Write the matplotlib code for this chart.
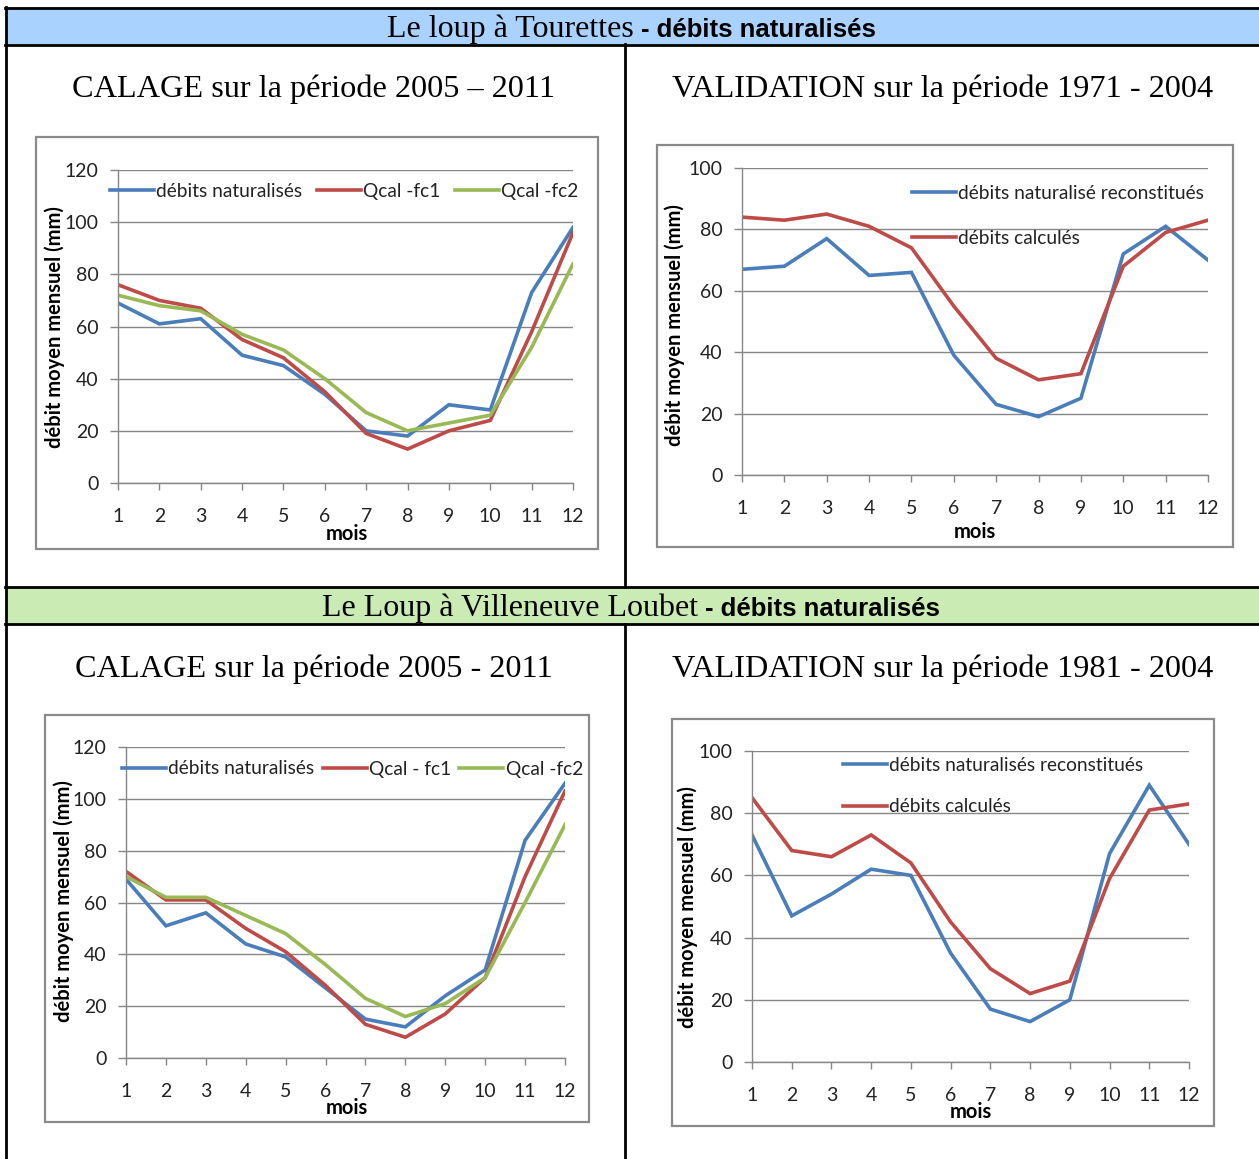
import matplotlib
matplotlib.use("Agg")
import matplotlib.pyplot as plt
from matplotlib.patches import Rectangle
from matplotlib.lines import Line2D

# ---------------- data ----------------
months = list(range(1, 13))

tour_cal_nat = [69, 61, 63, 49, 45, 34, 20, 18, 30, 28, 73, 98]
tour_cal_fc1 = [76, 70, 67, 55, 48, 35, 19, 13, 20, 24, 58, 96]
tour_cal_fc2 = [72, 68, 66, 57, 51, 40, 27, 20, 23, 26, 52, 84]

tour_val_nat = [67, 68, 77, 65, 66, 39, 23, 19, 25, 72, 81, 70]
tour_val_calc = [84, 83, 85, 81, 74, 55, 38, 31, 33, 68, 79, 83]

vil_cal_nat = [69, 51, 56, 44, 39, 27, 15, 12, 24, 34, 84, 106]
vil_cal_fc1 = [72, 61, 61, 50, 41, 28, 13, 8, 17, 31, 70, 103]
vil_cal_fc2 = [70, 62, 62, 55, 48, 36, 23, 16, 21, 31, 60, 90]

vil_val_nat = [73, 47, 54, 62, 60, 35, 17, 13, 20, 67, 89, 70]
vil_val_calc = [85, 68, 66, 73, 64, 45, 30, 22, 26, 59, 81, 83]

header1 = ("Le loup à Tourettes", "- débits naturalisés")
header2 = ("Le Loup à Villeneuve Loubet", "- débits naturalisés")
titles = ["CALAGE sur la période 2005 – 2011",
          "VALIDATION sur la période 1971 - 2004",
          "CALAGE sur la période 2005 - 2011",
          "VALIDATION sur la période 1981 - 2004"]
ylabel = "débit moyen mensuel (mm)"
xlabel = "mois"

cal_labels_top = ["débits naturalisés", "Qcal -fc1", "Qcal -fc2"]
cal_labels_bot = ["débits naturalisés", "Qcal - fc1", "Qcal -fc2"]
val_labels_top = ["débits naturalisé reconstitués", "débits calculés"]
val_labels_bot = ["débits naturalisés reconstitués", "débits calculés"]

# ---------------- style ----------------
W, H = 1259, 1159
BLUE, RED, GREEN = "#4A7EBB", "#BE4B48", "#98B954"
GRID = "#868686"
TICKFONT = "Lato"
fig = plt.figure(figsize=(W / 100, H / 100), dpi=100)


def fx(x):
    return x / W


def fy(y):
    return 1 - y / H


def hline(y, x0, x1, lw=2.0):
    fig.add_artist(Line2D([fx(x0), fx(x1)], [fy(y), fy(y)], color="black", lw=lw,
                          transform=fig.transFigure))


def vline(x, y0, y1, lw=2.0):
    fig.add_artist(Line2D([fx(x), fx(x)], [fy(y0), fy(y1)], color="black", lw=lw,
                          transform=fig.transFigure))


# header backgrounds
fig.add_artist(Rectangle((fx(6), fy(44)), fx(W) - fx(6), fy(7) - fy(44),
                         facecolor="#A9D2FE", edgecolor="none", transform=fig.transFigure))
fig.add_artist(Rectangle((fx(6), fy(624)), fx(W) - fx(6), fy(587) - fy(624),
                         facecolor="#CAEBB4", edgecolor="none", transform=fig.transFigure))
# table lines
hline(7.5, 5, W)
hline(44.5, 5, W)
hline(587, 5, W)
hline(624.5, 5, W)
vline(6, 6.5, H)
vline(625, 44, 587)
vline(625, 624, H)


def header(y_base, parts, x_split):
    fig.text(fx(x_split), fy(y_base), parts[0], ha="right", va="baseline",
             family="Liberation Serif", fontsize=23)
    fig.text(fx(x_split + 7), fy(y_base), parts[1], ha="left", va="baseline",
             family="Liberation Sans", fontweight="bold", fontsize=18.5)


header(37, header1, 634)
header(616, header2, 698)

# chart frames
for (x0, y0, x1, y1) in [(36, 137, 598, 549), (657, 145, 1233, 547),
                         (45, 715, 589, 1122), (672, 719, 1214, 1126)]:
    fig.add_artist(Rectangle((fx(x0), fy(y1)), fx(x1) - fx(x0), fy(y0) - fy(y1),
                             facecolor="none", edgecolor="#8A8A8A", lw=1.6,
                             transform=fig.transFigure))

# titles
for (x, y, t) in [(314, 89, titles[0]), (943, 89, titles[1]),
                  (314, 669, titles[2]), (943, 669, titles[3])]:
    fig.text(fx(x), fy(y), t, ha="center", va="center",
             family="Liberation Serif", fontsize=23.2)


def make_chart(x1px, x12px, ytop, ybot, ymax, series, colors, labels,
               leg_cfg, xlab_px, ylab_px):
    ax = fig.add_axes([fx(x1px), fy(ybot), (x12px - x1px) / W, (ybot - ytop) / H])
    for vals, c, lab in zip(series, colors, labels):
        ax.plot(months, vals, color=c, lw=2.6, label=lab, solid_joinstyle="miter")
    ax.set_xlim(1, 12)
    ax.set_ylim(0, ymax)
    ax.set_xticks(months)
    ax.set_yticks(range(0, ymax + 1, 20))
    ax.yaxis.grid(True, color=GRID, lw=1.0)
    ax.set_axisbelow(True)
    for s in ["top", "right"]:
        ax.spines[s].set_visible(False)
    for s in ["left", "bottom"]:
        ax.spines[s].set_color(GRID)
        ax.spines[s].set_linewidth(1.0)
    ax.tick_params(axis="x", direction="out", length=5, width=1, color=GRID, pad=13,
                   labelsize=14, labelcolor="#222222")
    ax.tick_params(axis="y", direction="out", length=6, width=1, color=GRID, pad=8,
                   labelsize=14, labelcolor="#222222")
    for lab in ax.get_xticklabels() + ax.get_yticklabels():
        lab.set_family(TICKFONT)
    ax.set_facecolor("none")
    ax.set_xlabel(xlabel, family=TICKFONT, fontweight="bold", fontsize=14.5)
    ax.set_ylabel(ylabel, family=TICKFONT, fontweight="bold", fontsize=14.5)
    ax.xaxis.label.set_va("center")
    ax.xaxis.set_label_coords((xlab_px[0] - x1px) / (x12px - x1px),
                              (ybot - xlab_px[1]) / (ybot - ytop))
    ax.yaxis.set_label_coords((ylab_px[0] - x1px) / (x12px - x1px),
                              (ybot - ylab_px[1]) / (ybot - ytop))
    ax.yaxis.label.set_va("center")
    leg = ax.legend(frameon=False, prop={"family": TICKFONT, "size": 13.8},
                    borderpad=0, borderaxespad=0, handletextpad=0.12, **leg_cfg)
    for t in leg.get_texts():
        t.set_color("#222222")
    return ax


# chart 1
make_chart(118, 573, 170, 483, 120,
           [tour_cal_nat, tour_cal_fc1, tour_cal_fc2], [BLUE, RED, GREEN],
           cal_labels_top,
           dict(ncol=3, loc="center left", bbox_to_anchor=((110 - 118) / 455, (483 - 191) / 313),
                handlelength=2.3, columnspacing=0.75),
           (347, 534), (55, 327))

# chart 2
make_chart(742, 1208, 168, 475, 100,
           [tour_val_nat, tour_val_calc], [BLUE, RED], val_labels_top,
           dict(ncol=1, loc="center left", bbox_to_anchor=((912 - 742) / 466, (475 - 216) / 307),
                handlelength=2.3, labelspacing=1.45),
           (975, 532), (675, 325))

# chart 3
make_chart(126, 565, 747, 1058, 120,
           [vil_cal_nat, vil_cal_fc1, vil_cal_fc2], [BLUE, RED, GREEN],
           cal_labels_bot,
           dict(ncol=3, loc="center left", bbox_to_anchor=((122 - 126) / 439, (1058 - 769) / 311),
                handlelength=2.3, columnspacing=0.42),
           (347, 1108), (64, 901))

# chart 4
make_chart(752, 1189, 751, 1062, 100,
           [vil_val_nat, vil_val_calc], [BLUE, RED], val_labels_bot,
           dict(ncol=1, loc="center left", bbox_to_anchor=((843 - 752) / 437, (1062 - 786) / 311),
                handlelength=2.3, labelspacing=1.3),
           (971, 1112), (688, 907))

fig.savefig("out.png", dpi=100)
